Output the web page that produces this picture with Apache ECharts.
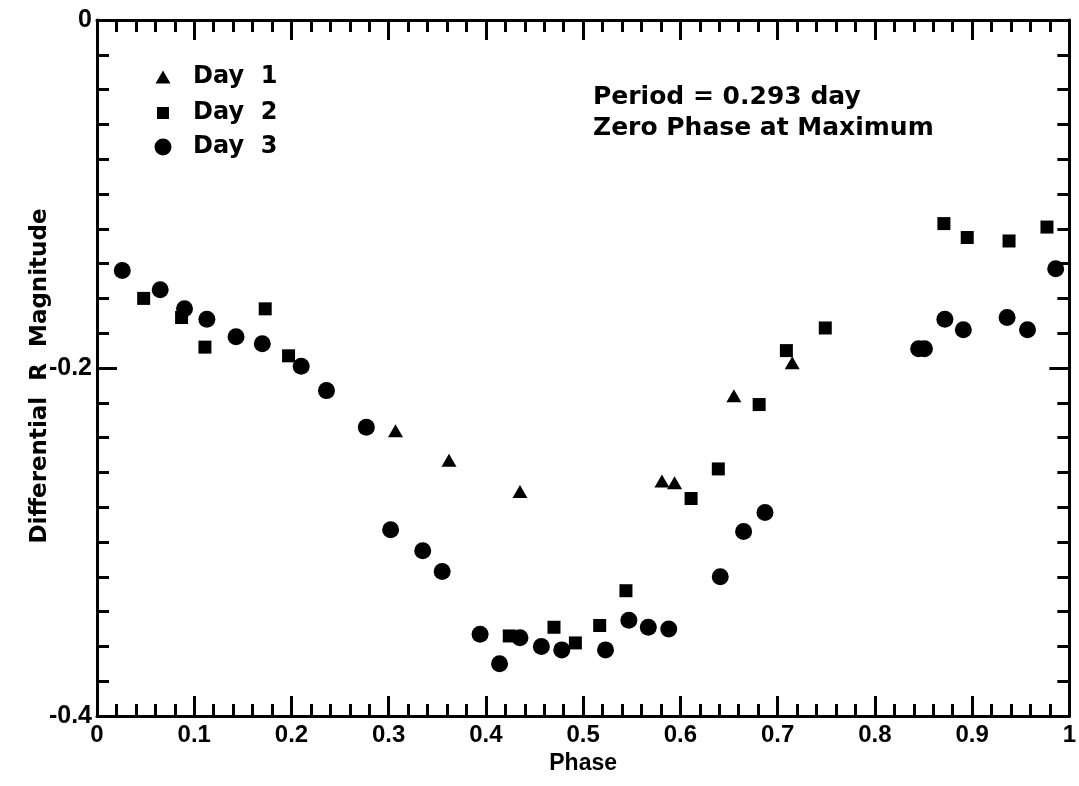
<!DOCTYPE html>
<html>
<head>
<meta charset="utf-8">
<script src="https://cdn.jsdelivr.net/npm/echarts@6/dist/echarts.min.js"></script>
<style>
  html, body { margin: 0; padding: 0; background: #fff; }
  #chart { width: 1079px; height: 786px; }
</style>
</head>
<body>
<div id="chart"></div>
<script>
// phase, differential R magnitude
const day1 = [
  [0.307, -0.236], [0.362, -0.253], [0.435, -0.271], [0.581, -0.265],
  [0.594, -0.266], [0.655, -0.216], [0.715, -0.197]
];
const day2 = [
  [0.048, -0.160], [0.087, -0.171], [0.111, -0.188], [0.173, -0.166],
  [0.197, -0.193], [0.424, -0.354], [0.470, -0.349], [0.492, -0.358],
  [0.517, -0.348], [0.544, -0.328], [0.611, -0.275], [0.639, -0.258],
  [0.681, -0.221], [0.709, -0.190], [0.749, -0.177], [0.871, -0.117],
  [0.895, -0.125], [0.938, -0.127], [0.977, -0.119]
];
const day3 = [
  [0.026, -0.144], [0.065, -0.155], [0.090, -0.166], [0.113, -0.172],
  [0.143, -0.182], [0.170, -0.186], [0.210, -0.199], [0.236, -0.213],
  [0.277, -0.234], [0.302, -0.293], [0.335, -0.305], [0.355, -0.317],
  [0.394, -0.353], [0.414, -0.370], [0.435, -0.355], [0.457, -0.360],
  [0.478, -0.362], [0.523, -0.362], [0.547, -0.345], [0.567, -0.349],
  [0.588, -0.350], [0.641, -0.320], [0.665, -0.294], [0.687, -0.283],
  [0.845, -0.189], [0.851, -0.189], [0.872, -0.172], [0.891, -0.178],
  [0.936, -0.171], [0.957, -0.178], [0.986, -0.143]
];
const seriesNames = ['Day  1', 'Day  2', 'Day  3'];
const notes = ['Period = 0.293 day', 'Zero Phase at Maximum'];
const yTitle = 'Differential  R  Magnitude';

const font = 'Liberation Sans, Arial, sans-serif';
const wide = 'DejaVu Sans, sans-serif';
const tickStyle = { color: '#000', width: 3 };

function xAxisCfg(pos, labels) {
  return {
    type: 'value', position: pos, min: 0, max: 1, interval: 0.1,
    axisLine: { show: true, onZero: false, lineStyle: tickStyle },
    axisTick: { show: true, inside: true, length: 20, lineStyle: tickStyle },
    minorTick: { show: true, splitNumber: 5, length: 12, lineStyle: tickStyle },
    splitLine: { show: false },
    axisLabel: {
      show: labels, color: '#000', fontFamily: font, fontWeight: 'bold', fontSize: 24, margin: 7,
      formatter: v => String(Math.round(v * 10) / 10)
    },
    name: labels ? 'Phase' : '', nameLocation: 'middle', nameGap: 36,
    nameTextStyle: { color: '#000', fontFamily: font, fontWeight: 'bold', fontSize: 23 }
  };
}
function yAxisCfg(pos, labels) {
  return {
    type: 'value', position: pos, min: -0.4, max: 0, interval: 0.2,
    axisLine: { show: true, onZero: false, lineStyle: tickStyle },
    axisTick: { show: true, inside: true, length: 20, lineStyle: tickStyle },
    minorTick: { show: true, splitNumber: 10, length: 12, lineStyle: tickStyle },
    splitLine: { show: false },
    axisLabel: {
      show: labels, color: '#000', fontFamily: font, fontWeight: 'bold', fontSize: 25, margin: 5,
      formatter: v => String(Math.round(v * 10) / 10)
    }
  };
}

// one legend block per row so each symbol keeps its own size
const legendRows = [
  { y: 72, w: 15, h: 13 },
  { y: 108, w: 12, h: 12 },
  { y: 142, w: 17, h: 17 }
];
const legends = legendRows.map((r, i) => ({
  data: [seriesNames[i]],
  left: 158 - r.w / 2, top: r.y - 12,
  itemWidth: r.w, itemHeight: r.h,
  textStyle: {
    color: '#000', fontFamily: wide, fontWeight: 'bold', fontSize: 24, lineHeight: 24,
    padding: [0, 0, 0, 188 - (158 + r.w / 2 + 5)]
  }
}));

const graphics = notes.map((t, i) => ({
  type: 'text', left: 593, top: 85 + i * 31,
  style: { text: t, fill: '#000', font: 'bold 25px ' + wide }
}));
// rotated y axis title
graphics.push({
  type: 'text', x: 52, y: 376, rotation: Math.PI / 2,
  style: {
    text: yTitle, fill: '#000', font: 'bold 23px ' + wide,
    align: 'center', verticalAlign: 'bottom',
    textAlign: 'center', textVerticalAlign: 'bottom'
  }
});

const chart = echarts.init(document.getElementById('chart'));
const option = {
  backgroundColor: '#fff',
  animation: false,
  grid: { left: 97, right: 7, top: 20, bottom: 70 },
  xAxis: [xAxisCfg('bottom', true), xAxisCfg('top', false)],
  yAxis: [yAxisCfg('left', true), yAxisCfg('right', false)],
  legend: legends,
  graphic: graphics,
  series: [
    { name: seriesNames[0], type: 'scatter', data: day1, symbol: 'triangle', symbolSize: [15, 13],
      itemStyle: { color: '#000', opacity: 1 } },
    { name: seriesNames[1], type: 'scatter', data: day2, symbol: 'rect', symbolSize: 13,
      itemStyle: { color: '#000', opacity: 1 } },
    { name: seriesNames[2], type: 'scatter', data: day3, symbol: 'circle', symbolSize: 17,
      itemStyle: { color: '#000', opacity: 1 } }
  ]
};
chart.setOption(option);
</script>
</body>
</html>
